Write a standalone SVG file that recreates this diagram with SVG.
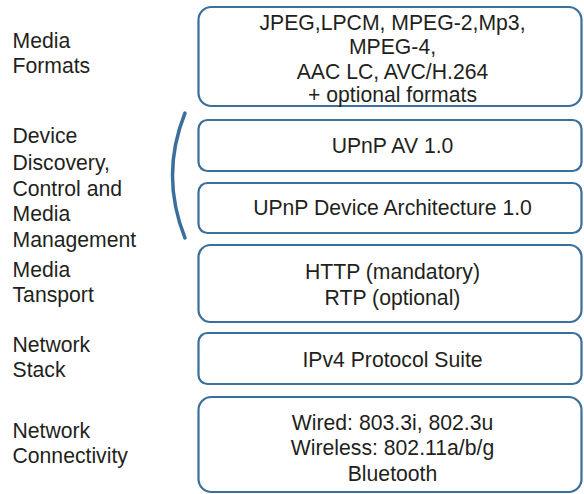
<svg xmlns="http://www.w3.org/2000/svg" width="584" height="494" viewBox="0 0 584 494">
<style>
.box{fill:#fff;stroke:#3b6f9b;stroke-width:2.2}
.t{font-family:"Liberation Sans",Arial,sans-serif;font-size:21.2px;fill:#231f20}
.c{text-anchor:middle}
</style>
<rect width="584" height="494" fill="#fff"/>
<g id="labels">
<text class="t" x="12.5" y="48">Media</text>
<text class="t" x="12.5" y="73">Formats</text>
<text class="t" x="12.5" y="143">Device</text>
<text class="t" x="12.5" y="170">Discovery,</text>
<text class="t" x="12.5" y="196">Control and</text>
<text class="t" x="12.5" y="221">Media</text>
<text class="t" x="12.5" y="247">Management</text>
<text class="t" x="12.5" y="277">Media</text>
<text class="t" x="12.5" y="302">Tansport</text>
<text class="t" x="12.5" y="352">Network</text>
<text class="t" x="12.5" y="377">Stack</text>
<text class="t" x="12.5" y="438">Network</text>
<text class="t" x="12.5" y="463">Connectivity</text>
</g>
<g id="bracket">
<path d="M185,113 Q160,175.5 185,238" fill="none" stroke="#3b6f9b" stroke-width="3.5" stroke-linecap="round"/>
</g>
<g id="media-formats">
<rect class="box" x="198.5" y="7" width="383" height="99" rx="13"/>
<text class="t c" x="392.5" y="29.5">JPEG,LPCM, MPEG-2,Mp3,</text>
<text class="t c" x="392.5" y="54">MPEG-4,</text>
<text class="t c" x="392.5" y="78.5">AAC LC, AVC/H.264</text>
<text class="t c" x="392.5" y="102">+ optional formats</text>
</g>
<g id="upnp-av">
<rect class="box" x="198.5" y="120" width="383" height="51" rx="9"/>
<text class="t c" x="392.5" y="153">UPnP AV 1.0</text>
</g>
<g id="upnp-da">
<rect class="box" x="198.5" y="183" width="383" height="50" rx="9"/>
<text class="t c" x="392.5" y="215">UPnP Device Architecture 1.0</text>
</g>
<g id="transport">
<rect class="box" x="198.5" y="245" width="383" height="77" rx="12"/>
<text class="t c" x="392.5" y="279">HTTP (mandatory)</text>
<text class="t c" x="392.5" y="305">RTP (optional)</text>
</g>
<g id="ipv4">
<rect class="box" x="198.5" y="333" width="383" height="51" rx="9"/>
<text class="t c" x="392.5" y="367">IPv4 Protocol Suite</text>
</g>
<g id="connectivity">
<rect class="box" x="198.5" y="397" width="383" height="95" rx="13"/>
<text class="t c" x="392.5" y="430">Wired: 803.3i, 802.3u</text>
<text class="t c" x="392.5" y="455">Wireless: 802.11a/b/g</text>
<text class="t c" x="392.5" y="480.5">Bluetooth</text>
</g>
<g id="connectors"/>
</svg>
